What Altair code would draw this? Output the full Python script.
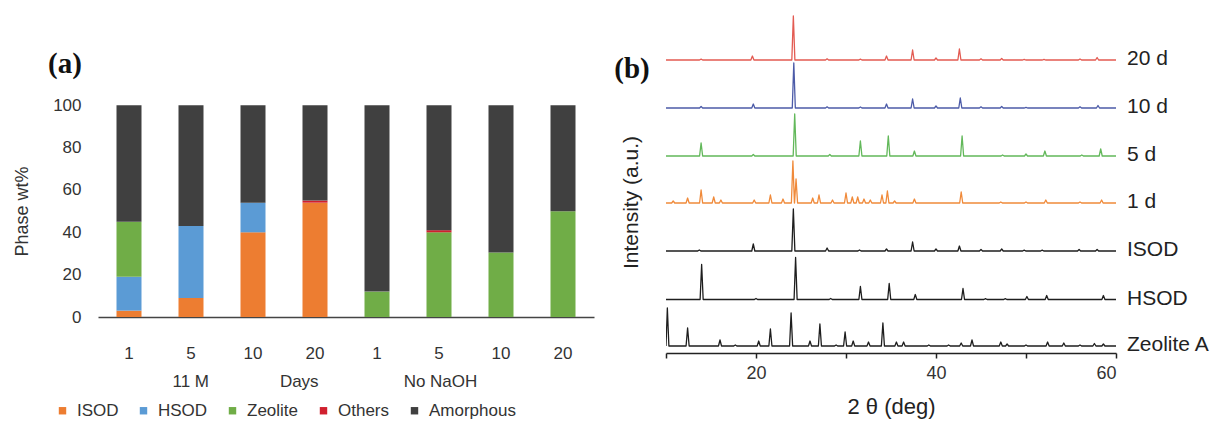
import altair as alt
import pandas as pd

# ---------------- Panel (a): phase composition ----------------
groups = ["11 M"] * 4 + ["No NaOH"] * 4
days = ["1", "5", "10", "20", "1", "5", "10", "20"]
bar_keys = [f"{g}|{d}" for g, d in zip(groups, days)]
phases = ["ISOD", "HSOD", "Zeolite", "Others", "Amorphous"]
phase_colors = ["#ED7D31", "#5B9BD5", "#70AD47", "#D0202E", "#404040"]
isod = [3, 9, 40, 54, 0, 0, 0, 0]
hsod = [16, 34, 14, 0, 0, 0, 0, 0]
zeolite = [26, 0, 0, 0, 12, 40, 30.5, 50]
others = [0, 0, 0, 1, 0, 1, 0, 0]
amorphous = [55, 57, 46, 45, 88, 59, 69.5, 50]
y_ticks = [0, 20, 40, 60, 80, 100]
panel_labels = ["(a)", "(b)"]

# ---------------- Panel (b): XRD patterns ----------------
patterns = ["20 d", "10 d", "5 d", "1 d", "ISOD", "HSOD", "Zeolite A"]
pattern_colors = ["#E35B52", "#4C5BA8", "#62B85A", "#F08A3A", "#1E1E1E", "#1E1E1E", "#1E1E1E"]
pattern_widths = [1.3, 1.3, 1.3, 1.3, 1.7, 1.7, 1.7]
offsets = [286, 238, 190, 143, 95, 46.5, 0]
peaks = {
    "20 d": [(13.9, 0.8), (19.6, 4), (24.15, 44), (27.9, 1.2), (31.6, 0.8), (34.5, 4), (37.4, 10),
             (40.0, 2), (42.6, 11), (45.0, 1.2), (47.3, 1.5), (49.8, 0.6), (52.0, 0.6), (56.0, 1),
             (57.9, 2.5)],
    "10 d": [(13.9, 1.5), (19.7, 4), (24.2, 45), (27.9, 1.2), (31.6, 1), (34.5, 4), (37.4, 9),
             (40.0, 2), (42.7, 10), (45.0, 1.2), (47.3, 1.5), (50.0, 0.6), (56.0, 1.2), (58.0, 2.5)],
    "5 d": [(13.9, 13), (19.7, 1.5), (24.3, 42), (28.2, 1.5), (31.6, 15), (34.7, 20), (37.6, 5),
            (42.9, 20), (47.4, 1), (50.0, 2), (52.1, 5), (56.2, 1), (58.3, 7)],
    "1 d": [(10.8, 2), (12.4, 5), (13.9, 13), (15.3, 6), (16.1, 3), (19.8, 3), (21.6, 8), (23.0, 4),
            (24.1, 42), (24.45, 24), (26.3, 5), (27.0, 8), (28.5, 3), (30.0, 10), (30.7, 6),
            (31.3, 6), (32.0, 4), (32.7, 3), (34.0, 8), (34.6, 12), (35.4, 2), (37.6, 4),
            (42.8, 11), (47.2, 1), (50.0, 1), (52.2, 3), (56.0, 1), (58.4, 3)],
    "ISOD": [(13.7, 1), (19.7, 7), (24.15, 42), (27.9, 3), (31.5, 1), (34.5, 2), (37.4, 9),
             (40.0, 2), (42.6, 5), (45.0, 1.5), (47.3, 2), (49.8, 0.8), (51.8, 0.8), (55.9, 1.5),
             (57.9, 1.5)],
    "HSOD": [(13.96, 35), (20.0, 1), (24.4, 42), (28.3, 1), (31.6, 13), (34.8, 16), (37.7, 5),
             (43.0, 11), (45.5, 0.8), (47.7, 0.8), (50.1, 3), (52.3, 4), (58.6, 4)],
    "Zeolite A": [(10.15, 38), (12.4, 18), (16.0, 6), (17.7, 1), (20.3, 5), (21.6, 17), (23.9, 33),
                  (26.0, 5), (27.1, 22), (28.9, 1), (29.9, 14), (30.8, 5), (32.5, 4), (34.1, 23),
                  (35.6, 4), (36.4, 4), (39.2, 1), (41.4, 1), (42.8, 3), (44.0, 6), (47.2, 4),
                  (47.9, 2), (50.0, 1), (52.4, 4), (54.2, 3), (56.0, 1), (57.6, 2.5), (58.6, 2)],
}
x_range = [10, 60]
x_ticks = [10, 20, 30, 40, 50, 60]

FONT = "Liberation Sans"

# ---- build table for (a)
rows = []
for i, key in enumerate(bar_keys):
    for k, (ph, vals) in enumerate(zip(phases, [isod, hsod, zeolite, others, amorphous])):
        if vals[i] > 0:
            rows.append({"key": key, "phase": ph, "wt": vals[i], "k": k})
df_a = pd.DataFrame(rows)

x_title = "11 M" + "\u00a0" * 15 + "Days" + "\u00a0" * 18 + "No NaOH"

bars = alt.Chart(df_a).mark_bar(size=25).encode(
    x=alt.X("key:N", sort=bar_keys,
            scale=alt.Scale(paddingInner=0, paddingOuter=0),
            axis=alt.Axis(labelExpr="split(datum.value,'|')[1]", labelAngle=0, ticks=False,
                          domainColor="#444", domainWidth=1.5, labelFontSize=17,
                          labelColor="#333", labelPadding=28, title=x_title,
                          titleFontSize=17, titleFontWeight="normal", titleColor="#333",
                          titleAnchor="start", titleAlign="left", titleX=74, titleY=69,
                          titleBaseline="alphabetic")),
    y=alt.Y("wt:Q", stack="zero", scale=alt.Scale(domain=[0, 145], nice=False),
            axis=alt.Axis(values=y_ticks, domain=False, ticks=False, grid=False,
                          labelFontSize=17, labelColor="#333", labelPadding=17,
                          title="Phase wt%", titleFontSize=18, titleFontWeight="normal",
                          titleColor="#333", titlePadding=21, titleY=201)),
    color=alt.Color("phase:N", scale=alt.Scale(domain=phases, range=phase_colors),
                    legend=alt.Legend(orient="none", legendX=-44, legendY=392,
                                      direction="horizontal", title=None, symbolType="square",
                                      symbolSize=55, symbolStrokeWidth=0, labelFontSize=17,
                                      labelColor="#333", columnPadding=16, labelOffset=6)),
    order=alt.Order("k:Q", sort="ascending"),
)

lab_a = alt.Chart(pd.DataFrame({"t": [panel_labels[0]]})).mark_text(
    font="Liberation Serif", fontWeight="bold", fontSize=29, color="#111"
).encode(text="t:N", x=alt.value(-33), y=alt.value(54))

chart_a = alt.layer(bars, lab_a).properties(width=496, height=307)

# ---- build table for (b)
pts = []
w = 0.17
for name, off in zip(patterns, offsets):
    seq = [(x_range[0], 0.0)]
    for p, h in sorted(peaks[name]):
        seq += [(max(x_range[0], p - w), 0.0), (p, h), (p + w, 0.0)]
    seq.append((x_range[1], 0.0))
    for j, (x, h) in enumerate(seq):
        pts.append({"pattern": name, "theta": x, "inten": off + h, "i": j})
df_b = pd.DataFrame(pts)

lines = alt.Chart(df_b).mark_line(strokeJoin="round", clip=True).encode(
    x=alt.X("theta:Q", scale=alt.Scale(domain=x_range, nice=False, zero=False),
            axis=alt.Axis(values=x_ticks,
                          labelExpr="datum.value % 20 == 0 ? datum.label : ''",
                          grid=False, tickSize=5, tickColor="#222", tickWidth=1.5,
                          domainColor="#222", domainWidth=1.5, labelFontSize=18,
                          labelColor="#333", labelPadding=6, title="2 θ (deg)",
                          titleFontSize=22, titleFontWeight="normal", titleColor="#222",
                          titlePadding=14)),
    y=alt.Y("inten:Q", scale=alt.Scale(domain=[-7, 336], nice=False, zero=False),
            axis=alt.Axis(labels=False, ticks=False, domain=False, grid=False,
                          title="Intensity (a.u.)", titleFontSize=21,
                          titleFontWeight="normal", titleColor="#222", titlePadding=25,
                          titleY=192, minExtent=0)),
    color=alt.Color("pattern:N", scale=alt.Scale(domain=patterns, range=pattern_colors),
                    legend=None),
    strokeWidth=alt.StrokeWidth("pattern:N",
                                scale=alt.Scale(domain=patterns, range=pattern_widths),
                                legend=None),
    detail="pattern:N",
    order="i:Q",
)

df_lab = pd.DataFrame({"pattern": patterns, "off": offsets})
trace_labels = alt.Chart(df_lab).mark_text(
    align="left", baseline="middle", fontSize=21, color="#222", dy=-1
).encode(text="pattern:N", x=alt.value(461), y=alt.Y("off:Q"))

lab_b = alt.Chart(pd.DataFrame({"t": [panel_labels[1]]})).mark_text(
    font="Liberation Serif", fontWeight="bold", fontSize=29, color="#111"
).encode(text="t:N", x=alt.value(-34), y=alt.value(59))

chart_b = alt.layer(lines, trace_labels, lab_b).properties(width=450, height=343)

chart = alt.hconcat(chart_a, chart_b, spacing=20).resolve_scale(
    color="independent", strokeWidth="independent"
).resolve_legend(color="independent").properties(
    padding={"left": 5, "top": 2, "right": 0, "bottom": 0}
).configure(
    font=FONT,
    view=alt.ViewConfig(stroke=None),
    axis=alt.AxisConfig(labelFont=FONT, titleFont=FONT),
    legend=alt.LegendConfig(labelFont=FONT),
)

chart.save("out.html", embed_options={"renderer": "svg", "actions": False})
